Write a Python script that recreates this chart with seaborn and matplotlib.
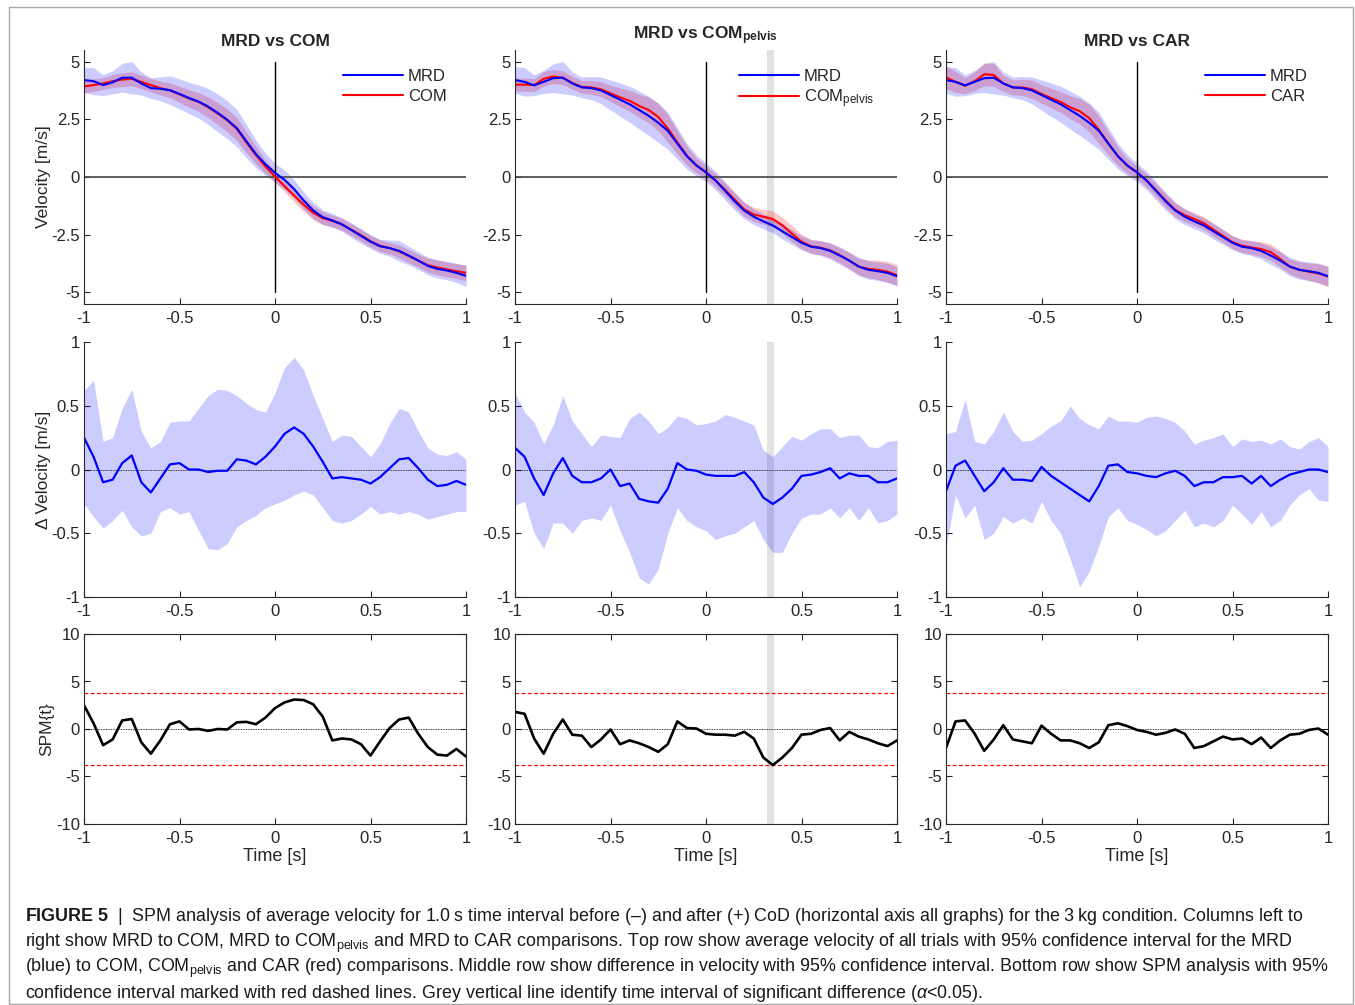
import numpy as np
import matplotlib
matplotlib.use('Agg')
import matplotlib.pyplot as plt
import seaborn as sns
from matplotlib.patches import Rectangle

# time axis, 41 samples from -1 to 1 s
time = np.linspace(-1, 1, 41)

# top row: mean velocity [m/s] and CI half-widths
mrd_left = [4.20, 4.15, 3.98, 4.10, 4.30, 4.30, 4.05, 3.85, 3.82, 3.76, 3.60, 3.42, 3.27, 3.05, 2.78, 2.48, 2.12, 1.55, 1.00, 0.55,
            0.18, -0.12, -0.52, -1.02, -1.45, -1.74, -1.88, -2.05, -2.30, -2.55, -2.80, -3.00, -3.08, -3.20, -3.40, -3.62, -3.85, -3.98, -4.05, -4.15, -4.28]
com = [3.92, 3.98, 4.05, 4.15, 4.22, 4.25, 4.12, 3.98, 3.85, 3.75, 3.58, 3.40, 3.25, 3.02, 2.75, 2.45, 2.08, 1.50, 0.95, 0.45,
       0.02, -0.40, -0.80, -1.20, -1.55, -1.78, -1.90, -2.05, -2.28, -2.52, -2.78, -2.98, -3.08, -3.22, -3.42, -3.62, -3.82, -3.92, -4.00, -4.08, -4.15]
mrd = [4.20, 4.12, 3.97, 4.12, 4.28, 4.30, 4.05, 3.88, 3.85, 3.75, 3.55, 3.35, 3.15, 2.90, 2.65, 2.35, 2.00, 1.45, 0.90, 0.50,
       0.20, -0.15, -0.60, -1.05, -1.45, -1.72, -1.92, -2.10, -2.35, -2.60, -2.85, -3.02, -3.08, -3.20, -3.40, -3.62, -3.88, -4.02, -4.08, -4.15, -4.30]
com_pelvis = [4.00, 4.00, 3.98, 4.25, 4.35, 4.30, 4.08, 3.90, 3.88, 3.80, 3.62, 3.45, 3.30, 3.08, 2.90, 2.60, 2.10, 1.50, 0.92, 0.50,
              0.20, -0.15, -0.55, -0.98, -1.40, -1.62, -1.72, -1.82, -2.10, -2.45, -2.80, -3.00, -3.06, -3.18, -3.38, -3.62, -3.88, -3.98, -4.02, -4.10, -4.25]
car = [4.32, 4.12, 3.95, 4.15, 4.45, 4.42, 4.05, 3.88, 3.88, 3.80, 3.60, 3.42, 3.25, 3.02, 2.85, 2.55, 2.05, 1.45, 0.90, 0.48,
       0.20, -0.15, -0.58, -1.02, -1.42, -1.65, -1.82, -2.00, -2.28, -2.55, -2.82, -2.98, -3.05, -3.12, -3.25, -3.55, -3.88, -4.02, -4.10, -4.18, -4.30]

mrd_left_hw = [0.55, 0.58, 0.45, 0.50, 0.62, 0.70, 0.50, 0.45, 0.52, 0.62, 0.65, 0.68, 0.72, 0.78, 0.82, 0.82, 0.80, 0.72, 0.60, 0.48,
               0.42, 0.42, 0.40, 0.37, 0.35, 0.32, 0.30, 0.30, 0.32, 0.32, 0.30, 0.30, 0.35, 0.45, 0.40, 0.38, 0.38, 0.40, 0.40, 0.42, 0.45]
com_hw = [0.28, 0.28, 0.25, 0.28, 0.30, 0.30, 0.30, 0.28, 0.30, 0.32, 0.35, 0.38, 0.40, 0.45, 0.48, 0.50, 0.50, 0.45, 0.38, 0.30,
          0.25, 0.25, 0.28, 0.30, 0.30, 0.28, 0.25, 0.25, 0.25, 0.25, 0.25, 0.25, 0.25, 0.28, 0.28, 0.28, 0.30, 0.32, 0.32, 0.32, 0.35]
mrd_hw = [0.58, 0.62, 0.45, 0.50, 0.62, 0.70, 0.50, 0.45, 0.50, 0.58, 0.65, 0.72, 0.78, 0.82, 0.85, 0.85, 0.80, 0.68, 0.55, 0.45,
          0.40, 0.40, 0.40, 0.38, 0.36, 0.34, 0.32, 0.32, 0.34, 0.32, 0.30, 0.30, 0.32, 0.35, 0.38, 0.38, 0.40, 0.40, 0.40, 0.42, 0.42]
pelvis_hw = [0.28, 0.28, 0.28, 0.32, 0.30, 0.30, 0.28, 0.28, 0.30, 0.32, 0.35, 0.40, 0.45, 0.50, 0.55, 0.60, 0.60, 0.50, 0.40, 0.32,
             0.28, 0.28, 0.28, 0.30, 0.30, 0.30, 0.32, 0.35, 0.35, 0.35, 0.32, 0.30, 0.30, 0.32, 0.32, 0.35, 0.35, 0.38, 0.42, 0.45, 0.45]
car_hw = [0.50, 0.45, 0.35, 0.40, 0.50, 0.50, 0.35, 0.32, 0.35, 0.40, 0.40, 0.42, 0.45, 0.50, 0.55, 0.60, 0.60, 0.50, 0.40, 0.32,
          0.28, 0.28, 0.28, 0.30, 0.30, 0.28, 0.28, 0.28, 0.28, 0.28, 0.28, 0.28, 0.30, 0.32, 0.35, 0.35, 0.32, 0.35, 0.38, 0.42, 0.45]

# middle row: difference in velocity with 95% CI
diff_com = [0.25, 0.10, -0.10, -0.08, 0.05, 0.11, -0.10, -0.18, -0.07, 0.04, 0.05, 0.00, 0.00, -0.02, -0.01, -0.01, 0.08, 0.07, 0.04, 0.10,
            0.18, 0.28, 0.33, 0.28, 0.18, 0.06, -0.07, -0.06, -0.07, -0.08, -0.11, -0.06, 0.01, 0.08, 0.09, 0.01, -0.08, -0.13, -0.12, -0.09, -0.12]
diff_com_hi = [0.62, 0.70, 0.22, 0.25, 0.48, 0.63, 0.30, 0.17, 0.22, 0.37, 0.38, 0.38, 0.48, 0.58, 0.63, 0.62, 0.58, 0.52, 0.47, 0.45,
               0.60, 0.80, 0.88, 0.78, 0.58, 0.40, 0.22, 0.27, 0.26, 0.18, 0.10, 0.20, 0.36, 0.48, 0.45, 0.30, 0.17, 0.12, 0.11, 0.14, 0.08]
diff_com_lo = [-0.27, -0.37, -0.46, -0.40, -0.32, -0.45, -0.52, -0.50, -0.33, -0.30, -0.35, -0.33, -0.48, -0.62, -0.63, -0.58, -0.45, -0.40, -0.36, -0.30,
               -0.27, -0.24, -0.20, -0.17, -0.20, -0.30, -0.40, -0.42, -0.40, -0.35, -0.29, -0.35, -0.33, -0.35, -0.33, -0.35, -0.39, -0.37, -0.35, -0.33, -0.33]

diff_pelvis = [0.17, 0.10, -0.07, -0.20, -0.03, 0.09, -0.05, -0.10, -0.10, -0.07, 0.00, -0.13, -0.11, -0.23, -0.25, -0.26, -0.15, 0.05, 0.00, -0.01,
               -0.04, -0.05, -0.05, -0.05, -0.02, -0.10, -0.22, -0.27, -0.22, -0.15, -0.05, -0.04, -0.02, 0.01, -0.07, -0.03, -0.05, -0.05, -0.10, -0.10, -0.07]
diff_pelvis_hi = [0.60, 0.45, 0.37, 0.20, 0.35, 0.58, 0.38, 0.28, 0.18, 0.27, 0.26, 0.25, 0.40, 0.45, 0.38, 0.28, 0.33, 0.42, 0.40, 0.35,
                  0.36, 0.38, 0.43, 0.41, 0.38, 0.35, 0.15, 0.10, 0.18, 0.26, 0.23, 0.28, 0.32, 0.32, 0.25, 0.27, 0.27, 0.18, 0.17, 0.22, 0.23]
diff_pelvis_lo = [-0.28, -0.25, -0.50, -0.62, -0.42, -0.42, -0.50, -0.40, -0.38, -0.40, -0.28, -0.48, -0.65, -0.85, -0.90, -0.78, -0.50, -0.30, -0.40, -0.45,
                  -0.48, -0.55, -0.52, -0.50, -0.45, -0.40, -0.55, -0.65, -0.65, -0.50, -0.38, -0.35, -0.35, -0.30, -0.38, -0.30, -0.40, -0.30, -0.42, -0.40, -0.35]

diff_car = [-0.17, 0.03, 0.07, -0.05, -0.17, -0.10, 0.01, -0.08, -0.08, -0.09, 0.02, -0.05, -0.10, -0.15, -0.20, -0.25, -0.13, 0.03, 0.04, -0.02,
            -0.03, -0.05, -0.06, -0.03, -0.01, -0.05, -0.13, -0.10, -0.10, -0.06, -0.06, -0.05, -0.11, -0.05, -0.13, -0.08, -0.04, -0.02, 0.00, 0.00, -0.02]
diff_car_hi = [0.28, 0.30, 0.55, 0.22, 0.20, 0.30, 0.45, 0.30, 0.22, 0.23, 0.28, 0.34, 0.38, 0.50, 0.40, 0.35, 0.32, 0.42, 0.38, 0.38,
               0.37, 0.41, 0.42, 0.40, 0.37, 0.30, 0.20, 0.23, 0.25, 0.28, 0.18, 0.24, 0.22, 0.23, 0.20, 0.24, 0.18, 0.16, 0.22, 0.25, 0.18]
diff_car_lo = [-0.60, -0.20, -0.38, -0.28, -0.55, -0.50, -0.37, -0.42, -0.38, -0.42, -0.25, -0.40, -0.50, -0.70, -0.92, -0.80, -0.60, -0.37, -0.30, -0.40,
               -0.43, -0.47, -0.52, -0.48, -0.40, -0.32, -0.45, -0.42, -0.45, -0.40, -0.28, -0.35, -0.43, -0.33, -0.45, -0.40, -0.28, -0.20, -0.15, -0.24, -0.25]

# bottom row: SPM{t}
spm_com = [2.5, 0.6, -1.7, -1.1, 0.9, 1.05, -1.4, -2.6, -1.2, 0.5, 0.8, -0.05, 0.0, -0.2, 0.0, -0.05, 0.7, 0.75, 0.5, 1.2,
           2.2, 2.8, 3.1, 3.05, 2.6, 1.3, -1.2, -1.0, -1.1, -1.6, -2.8, -1.3, 0.1, 1.0, 1.2, -0.5, -1.9, -2.7, -2.8, -2.1, -2.9]
spm_pelvis = [1.8, 1.6, -1.0, -2.6, -0.5, 1.0, -0.6, -0.7, -1.9, -1.1, -0.05, -1.6, -1.2, -1.5, -1.9, -2.4, -1.6, 0.8, 0.1, 0.05,
              -0.5, -0.6, -0.6, -0.7, -0.3, -1.0, -3.0, -3.8, -3.0, -2.0, -0.6, -0.5, -0.1, 0.1, -1.2, -0.3, -0.8, -1.1, -1.5, -1.8, -1.2]
spm_car = [-2.0, 0.8, 0.9, -0.5, -2.3, -1.1, 0.4, -1.1, -1.3, -1.5, 0.35, -0.5, -1.2, -1.2, -1.5, -2.0, -1.4, 0.4, 0.6, 0.3,
           -0.1, -0.3, -0.6, -0.4, -0.05, -0.5, -2.0, -1.8, -1.3, -0.8, -1.1, -1.0, -1.6, -0.9, -2.0, -1.2, -0.6, -0.5, -0.1, 0.05, -0.6]
spm_threshold = 3.77
sig_interval = [0.32, 0.355]  # only in the COM_pelvis column

titles = ['MRD vs COM', r'MRD vs COM$_{\mathbf{pelvis}}$', 'MRD vs CAR']
other_labels = ['COM', r'COM$_{\mathrm{pelvis}}$', 'CAR']

x_ticks = [-1, -0.5, 0, 0.5, 1]
x_ticklabels = ['-1', '-0.5', '0', '0.5', '1']
top_ticks = [-5, -2.5, 0, 2.5, 5]
top_ticklabels = ['-5', '-2.5', '0', '2.5', '5']
mid_ticks = [-1, -0.5, 0, 0.5, 1]
mid_ticklabels = ['-1', '-0.5', '0', '0.5', '1']
bot_ticks = [-10, -5, 0, 5, 10]
bot_ticklabels = ['-10', '-5', '0', '5', '10']

caption_lines = [
    r'$\mathbf{FIGURE\ 5}$  |  SPM analysis of average velocity for 1.0' + '\u2009' + 's time interval before (\u2013) and after (+) CoD (horizontal axis all graphs) for the 3' + '\u2009' + 'kg condition. Columns left to',
    r'right show MRD to COM, MRD to COM$_{\mathrm{pelvis}}$ and MRD to CAR comparisons. Top row show average velocity of all trials with 95% confidence interval for the MRD',
    r'(blue) to COM, COM$_{\mathrm{pelvis}}$ and CAR (red) comparisons. Middle row show difference in velocity with 95% confidence interval. Bottom row show SPM analysis with 95%',
    r'confidence interval marked with red dashed lines. Grey vertical line identify time interval of significant difference ($\alpha$<0.05).',
]

sns.set_theme(style='white')
plt.rcParams['font.family'] = ['Liberation Sans', 'DejaVu Sans']
plt.rcParams['mathtext.fontset'] = 'custom'
plt.rcParams['mathtext.rm'] = 'Liberation Sans'
plt.rcParams['mathtext.it'] = 'Liberation Sans:italic'
plt.rcParams['mathtext.bf'] = 'Liberation Sans:bold'

AXC = '#262626'
W, H = 1355, 1005
fig = plt.figure(figsize=(W / 100, H / 100), dpi=100)

col_left = [84, 515, 946]
col_w = 382
row_px = {'top': (50, 304), 'mid': (342, 597), 'bot': (634, 824)}


def make_ax(col, row):
    y0, y1 = row_px[row]
    return fig.add_axes([col_left[col] / W, 1 - y1 / H, col_w / W, (y1 - y0) / H])


def style_ax(ax, yticks, yticklabels, box=False):
    ax.set_xlim(-1, 1)
    ax.set_xticks(x_ticks)
    ax.set_xticklabels(x_ticklabels)
    ax.set_yticks(yticks)
    ax.set_yticklabels(yticklabels)
    ax.tick_params(direction='in', length=4, width=0.8, colors=AXC, labelsize=12, pad=5,
                   bottom=True, left=True, top=box, right=box)
    ax.tick_params(axis='y', pad=3)
    for s in ax.spines.values():
        s.set_color(AXC)
        s.set_linewidth(0.8)
    if not box:
        sns.despine(ax=ax)
    ax.set_xlabel('')
    ax.set_ylabel('')


top_data = [(mrd_left, mrd_left_hw, com, com_hw), (mrd, mrd_hw, com_pelvis, pelvis_hw), (mrd, mrd_hw, car, car_hw)]
mid_data = [(diff_com, diff_com_lo, diff_com_hi), (diff_pelvis, diff_pelvis_lo, diff_pelvis_hi), (diff_car, diff_car_lo, diff_car_hi)]
bot_data = [spm_com, spm_pelvis, spm_car]
leg_x = [0.678, 0.586, 0.678]

for c in range(3):
    # --- top row: mean velocity
    ax = make_ax(c, 'top')
    m, mhw, o, ohw = [np.array(a) for a in top_data[c]]
    if c == 1:
        ax.axvspan(*sig_interval, color='#e2e2e2', lw=0, zorder=0)
    # red band under the blue one, as in the original
    ax.fill_between(time, o - ohw, o + ohw, color='red', alpha=0.22, lw=0)
    ax.fill_between(time, m - mhw, m + mhw, color='blue', alpha=0.2, lw=0)
    ax.axhline(0, color='#505050', lw=1.3)
    ax.plot([0, 0], [-5, 5], color='black', lw=1)
    sns.lineplot(x=time, y=o, color='red', lw=1.5, ax=ax, label=other_labels[c])
    sns.lineplot(x=time, y=m, color='blue', lw=1.5, ax=ax, label='MRD')
    ax.set_ylim(-5.5, 5.5)
    style_ax(ax, top_ticks, top_ticklabels)
    h, l = ax.get_legend_handles_labels()
    ax.legend(h[::-1], l[::-1], loc='upper left', bbox_to_anchor=(leg_x[c], 0.925), frameon=False,
              fontsize=12, handlelength=3.6, handletextpad=0.3, borderpad=0, borderaxespad=0,
              labelspacing=0.28 if c != 1 else 0.18)
    ax.set_title(titles[c], fontsize=12.5, fontweight='bold', pad=7.5 if c == 1 else 3)
    if c == 0:
        ax.set_ylabel('Velocity [m/s]', fontsize=12.5, color=AXC)
        ax.yaxis.set_label_coords(-0.086, 0.5)

    # --- middle row: difference
    ax = make_ax(c, 'mid')
    d, lo, hi = mid_data[c]
    if c == 1:
        ax.axvspan(*sig_interval, color='#e2e2e2', lw=0, zorder=0)
    ax.fill_between(time, lo, hi, color='blue', alpha=0.2, lw=0)
    ax.axhline(0, color='black', lw=0.6, ls=(0, (1, 1)))
    sns.lineplot(x=time, y=d, color='blue', lw=1.6, ax=ax)
    ax.set_ylim(-1, 1)
    style_ax(ax, mid_ticks, mid_ticklabels)
    if c == 0:
        ax.set_ylabel('\u0394 Velocity [m/s]', fontsize=12.5, color=AXC)
        ax.yaxis.set_label_coords(-0.086, 0.5)

    # --- bottom row: SPM
    ax = make_ax(c, 'bot')
    if c == 1:
        ax.axvspan(*sig_interval, color='#e2e2e2', lw=0, zorder=0)
    ax.axhline(0, color='black', lw=0.6, ls=(0, (1, 1)))
    ax.axhline(spm_threshold, color='red', lw=0.9, ls=(0, (3, 2)))
    ax.axhline(-spm_threshold, color='red', lw=0.9, ls=(0, (3, 2)))
    sns.lineplot(x=time, y=bot_data[c], color='black', lw=1.9, ax=ax)
    ax.set_ylim(-10, 10)
    style_ax(ax, bot_ticks, bot_ticklabels, box=True)
    ax.set_xlabel('Time [s]', fontsize=13, color=AXC)
    ax.xaxis.set_label_coords(0.5, -0.125)
    if c == 0:
        ax.set_ylabel('SPM{t}', fontsize=12.5, color=AXC)
        ax.yaxis.set_label_coords(-0.079, 0.5)

# caption
for i, line in enumerate(caption_lines):
    fig.text(25 / W, 1 - (921 + 25.5 * i) / H, line, fontsize=12.85, color='#1a1a1a', va='baseline', ha='left')

# thin grey frame round the figure
fig.add_artist(Rectangle((9 / W, 1 - 1004 / H), (1353 - 9) / W, (1004 - 7) / H, transform=fig.transFigure,
                         fill=False, edgecolor='#a8a8a8', lw=1))

fig.savefig('out.png', dpi=100)
